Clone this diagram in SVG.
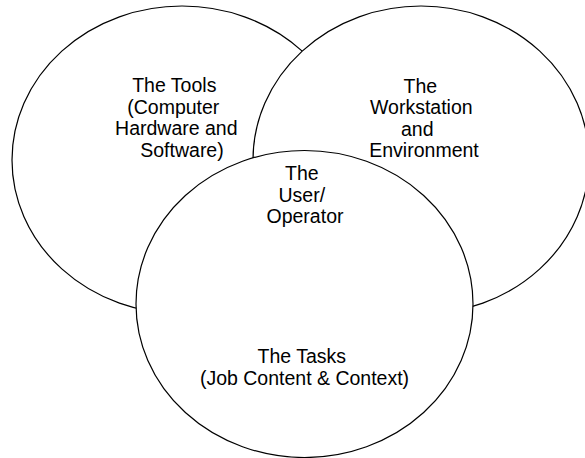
<svg xmlns="http://www.w3.org/2000/svg" width="585" height="458" viewBox="0 0 585 458">
  <style>
    .ring { fill: #ffffff; stroke: #000000; stroke-width: 1.2; }
    .label { font-family: "Liberation Sans", Arial, sans-serif; font-size: 19.5px; fill: #000000; text-anchor: middle; }
  </style>
  <rect x="0" y="0" width="585" height="458" fill="#ffffff"/>

  <!-- Tools (left circle) -->
  <g id="tools">
    <ellipse class="ring" cx="182" cy="160" rx="170" ry="154"/>
    <text class="label">
      <tspan x="177" y="92">The Tools</tspan>
      <tspan x="176" y="113.5">(Computer</tspan>
      <tspan x="179" y="135">Hardware and</tspan>
      <tspan x="182" y="156.5">Software)</tspan>
    </text>
  </g>

  <!-- Workstation (right circle) -->
  <g id="workstation">
    <ellipse class="ring" cx="421" cy="160" rx="168" ry="154"/>
    <text class="label">
      <tspan x="423" y="93">The</tspan>
      <tspan x="424" y="114">Workstation</tspan>
      <tspan x="420" y="135.5">and</tspan>
      <tspan x="424" y="157">Environment</tspan>
    </text>
  </g>

  <!-- Tasks (bottom circle), with the user label at the shared centre -->
  <g id="tasks">
    <ellipse class="ring" cx="304.5" cy="304" rx="168.5" ry="153.5"/>
    <text class="label">
      <tspan x="304.5" y="363">The Tasks</tspan>
      <tspan x="304.5" y="385">(Job Content &amp; Context)</tspan>
    </text>
  </g>

  <g id="user">
    <text class="label">
      <tspan x="304.5" y="180">The</tspan>
      <tspan x="304.5" y="201.5">User/</tspan>
      <tspan x="305" y="223">Operator</tspan>
    </text>
  </g>

  <g id="connectors"/>
</svg>
